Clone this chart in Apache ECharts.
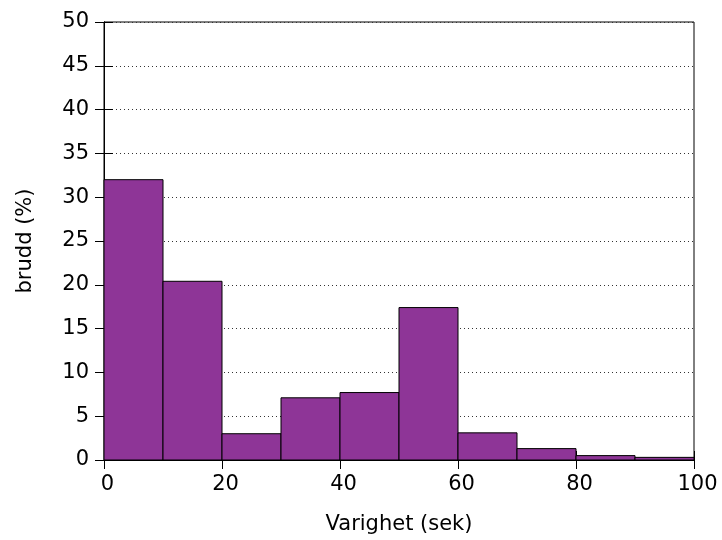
<!DOCTYPE html>
<html>
<head>
<meta charset="utf-8">
<script src="https://cdn.jsdelivr.net/npm/echarts@6/dist/echarts.min.js"></script>
<style>
html,body{margin:0;padding:0;background:#fff;}
#chart{width:722px;height:540px;}
</style>
</head>
<body>
<div id="chart"></div>
<script>
// Histogram bins (start of each 10 s bin) and values in percent
const binStarts = [0, 10, 20, 30, 40, 50, 60, 70, 80, 90];
const binWidth = 10;
const values = [32.0, 20.4, 3.0, 7.1, 7.7, 17.4, 3.1, 1.3, 0.5, 0.3];
const xTitle = 'Varighet (sek)';
const yTitle = 'brudd (%)';

const data = binStarts.map((s, i) => [s, s + binWidth, values[i]]);
const FONT = 'DejaVu Sans';
const FS = 21;
const chart = echarts.init(document.getElementById('chart'), null, {renderer: 'canvas'});

const tickStyle = {show: true, inside: true, length: 9, lineStyle: {color: '#000', width: 1}};

chart.setOption({
  animation: false,
  backgroundColor: '#fff',
  textStyle: {fontFamily: FONT, color: '#000'},
  grid: {left: 104, right: 28, top: 22, bottom: 79, show: true, borderColor: '#000', borderWidth: 1, backgroundColor: 'transparent'},
  xAxis: [{
    type: 'value', min: 0, max: 100, interval: 20, position: 'bottom',
    name: xTitle, nameLocation: 'middle', nameGap: 54,
    nameTextStyle: {fontFamily: FONT, fontSize: FS, color: '#000'},
    axisLine: {show: true, lineStyle: {color: '#000'}},
    axisTick: tickStyle,
    axisLabel: {fontFamily: FONT, fontSize: FS, color: '#000', margin: 14, padding: [0, 0, 0, 7]},
    splitLine: {show: false}
  }, {
    type: 'value', min: 0, max: 100, interval: 20, position: 'top',
    axisLine: {show: true, lineStyle: {color: '#000'}},
    axisTick: tickStyle, axisLabel: {show: false}, splitLine: {show: false}
  }],
  yAxis: [{
    type: 'value', min: 0, max: 50, interval: 5, position: 'left',
    name: yTitle, nameLocation: 'middle', nameGap: 68, nameRotate: 90,
    nameTextStyle: {fontFamily: FONT, fontSize: FS, color: '#000'},
    axisLine: {show: true, lineStyle: {color: '#000'}},
    axisTick: tickStyle,
    axisLabel: {fontFamily: FONT, fontSize: FS, color: '#000', margin: 15},
    splitLine: {show: true, lineStyle: {color: '#333', width: 1, type: [1, 3]}}
  }, {
    type: 'value', min: 0, max: 50, interval: 5, position: 'right',
    axisLine: {show: true, lineStyle: {color: '#000'}},
    axisTick: tickStyle, axisLabel: {show: false}, splitLine: {show: false}
  }],
  series: [{
    type: 'custom',
    xAxisIndex: 0, yAxisIndex: 0,
    data: data,
    encode: {x: [0, 1], y: 2},
    renderItem: function (params, api) {
      const p0 = api.coord([api.value(0), 0]);
      const p1 = api.coord([api.value(1), api.value(2)]);
      return {
        type: 'rect',
        shape: {x: p0[0], y: p1[1], width: p1[0] - p0[0], height: p0[1] - p1[1]},
        style: {fill: '#8e3597', stroke: '#000', lineWidth: 1}
      };
    }
  }]
});
</script>
</body>
</html>
